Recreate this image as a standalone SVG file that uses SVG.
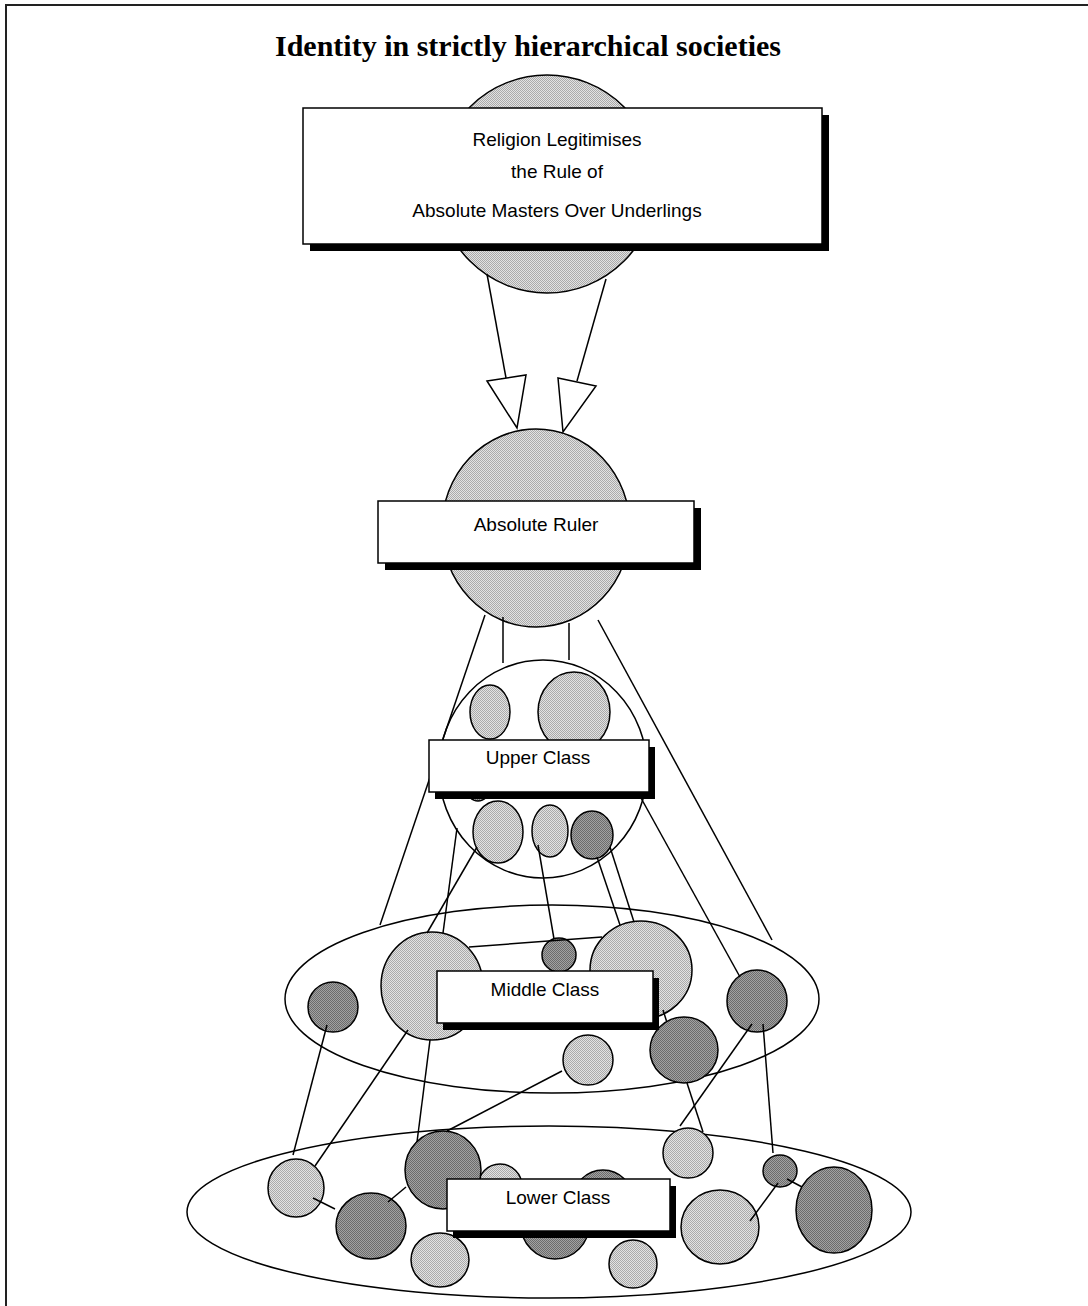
<svg xmlns="http://www.w3.org/2000/svg" width="1088" height="1306" viewBox="0 0 1088 1306">
  <defs>
    <!-- fine dithered greys -->
    <pattern id="lightDot" width="2" height="2" patternUnits="userSpaceOnUse">
      <rect width="2" height="2" fill="#e2e2e2"/>
      <rect width="1" height="1" fill="#aaaaaa"/>
      <rect x="1" y="1" width="1" height="1" fill="#aaaaaa"/>
    </pattern>
    <pattern id="darkDot" width="2" height="2" patternUnits="userSpaceOnUse">
      <rect width="2" height="2" fill="#a2a2a2"/>
      <rect width="1" height="1" fill="#6c6c6c"/>
      <rect x="1" y="1" width="1" height="1" fill="#6c6c6c"/>
    </pattern>
  </defs>
  <style>
    .frame { fill: none; stroke: #222; stroke-width: 2; }
    .title { font-family: "Liberation Serif", "Times New Roman", serif; font-weight: bold; font-size: 30px; fill: #000; }
    .group { fill: #fff; stroke: #000; stroke-width: 1.5; }
    .lt { fill: url(#lightDot); stroke: #000; stroke-width: 1.5; }
    .dk { fill: url(#darkDot); stroke: #000; stroke-width: 1.5; }
    .shadow { fill: #000; }
    .box { fill: #fff; stroke: #000; stroke-width: 1.5; }
    .label { font-family: "Liberation Sans", Arial, sans-serif; font-size: 19px; fill: #000; text-anchor: middle; }
    .conn line { stroke: #000; stroke-width: 1.5; }
    .head { fill: #fff; stroke: #000; stroke-width: 1.5; stroke-linejoin: miter; }
  </style>

  <rect width="1088" height="1306" fill="#fff"/>
  <path class="frame" d="M6,1306 V5 H1088"/>

  <text class="title" x="528" y="56" text-anchor="middle">Identity in strictly hierarchical societies</text>

  <!-- religion -->
  <g id="religion">
    <circle class="lt" cx="547" cy="184" r="109"/>
  </g>

  <!-- absolute ruler -->
  <g id="ruler">
    <ellipse class="lt" cx="536" cy="528" rx="94" ry="99"/>
  </g>

  <!-- upper class -->
  <g id="upper-class">
    <ellipse class="group" cx="543" cy="769" rx="104" ry="109"/>
    <ellipse class="lt" cx="490" cy="712" rx="20" ry="27"/>
    <ellipse class="lt" cx="574" cy="712" rx="36" ry="40"/>
    <circle class="dk" cx="478" cy="790" r="11"/>
    <ellipse class="lt" cx="498" cy="832" rx="25" ry="31"/>
    <ellipse class="lt" cx="550" cy="831" rx="18" ry="26"/>
    <ellipse class="dk" cx="592" cy="835" rx="21" ry="24"/>
  </g>

  <!-- middle class -->
  <g id="middle-class">
    <ellipse class="group" cx="552" cy="999" rx="267" ry="94"/>
    <circle class="dk" cx="333" cy="1007" r="25"/>
    <ellipse class="lt" cx="432" cy="986" rx="51" ry="54"/>
    <circle class="dk" cx="559" cy="955" r="17"/>
    <ellipse class="lt" cx="641" cy="970" rx="51" ry="49"/>
    <ellipse class="dk" cx="757" cy="1001" rx="30" ry="31"/>
    <ellipse class="dk" cx="684" cy="1050" rx="34" ry="33"/>
    <circle class="lt" cx="588" cy="1060" r="25"/>
  </g>

  <!-- lower class -->
  <g id="lower-class">
    <ellipse class="group" cx="549" cy="1212" rx="362" ry="86"/>
    <ellipse class="lt" cx="296" cy="1188" rx="28" ry="29"/>
    <ellipse class="dk" cx="371" cy="1226" rx="35" ry="33"/>
    <circle class="lt" cx="500" cy="1186" r="22"/>
    <ellipse class="dk" cx="443" cy="1170" rx="38" ry="39"/>
    <ellipse class="lt" cx="440" cy="1260" rx="29" ry="27"/>
    <circle class="dk" cx="603" cy="1200" r="30"/>
    <circle class="dk" cx="555" cy="1225" r="34"/>
    <circle class="lt" cx="633" cy="1264" r="24"/>
    <circle class="lt" cx="688" cy="1153" r="25"/>
    <ellipse class="lt" cx="720" cy="1227" rx="39" ry="37"/>
    <ellipse class="dk" cx="780" cy="1171" rx="17" ry="16"/>
    <ellipse class="dk" cx="834" cy="1210" rx="38" ry="43"/>
  </g>

  <!-- connectors -->
  <g id="connectors" class="conn">
    <!-- religion to ruler -->
    <line x1="487" y1="274" x2="506" y2="378"/>
    <polygon class="head" points="487,381 526,375 517,428"/>
    <line x1="606" y1="279" x2="577" y2="381"/>
    <polygon class="head" points="558,378 596,386 563,432"/>
    <!-- ruler down -->
    <line x1="503" y1="617" x2="503" y2="663"/>
    <line x1="569" y1="623" x2="569" y2="660"/>
    <line x1="485" y1="615" x2="380" y2="925"/>
    <line x1="598" y1="620" x2="772" y2="940"/>
    <!-- upper to middle -->
    <line x1="457" y1="828" x2="443" y2="933"/>
    <line x1="477" y1="847" x2="427" y2="933"/>
    <line x1="538" y1="845" x2="554" y2="939"/>
    <line x1="597" y1="857" x2="620" y2="925"/>
    <line x1="610" y1="847" x2="634" y2="922"/>
    <line x1="641" y1="798" x2="740" y2="977"/>
    <!-- inside middle -->
    <line x1="469" y1="947" x2="602" y2="937"/>
    <!-- middle to lower -->
    <line x1="327" y1="1025" x2="293" y2="1155"/>
    <line x1="408" y1="1030" x2="315" y2="1166"/>
    <line x1="430" y1="1040" x2="417" y2="1142"/>
    <line x1="562" y1="1071" x2="447" y2="1131"/>
    <line x1="663" y1="1010" x2="666.5" y2="1021"/>
    <line x1="687" y1="1083" x2="703" y2="1132"/>
    <line x1="752" y1="1024" x2="680" y2="1126"/>
    <line x1="763" y1="1024" x2="773" y2="1153"/>
    <!-- inside lower -->
    <line x1="313" y1="1198" x2="335" y2="1209"/>
    <line x1="388" y1="1202" x2="406" y2="1187"/>
    <line x1="750" y1="1221" x2="778" y2="1183"/>
    <line x1="787" y1="1179" x2="802" y2="1187"/>
  </g>

  <!-- label boxes -->
  <g id="religion-label">
    <rect class="shadow" x="310" y="115" width="519" height="136"/>
    <rect class="box" x="303" y="108" width="519" height="136"/>
    <text class="label" x="557" y="146">Religion Legitimises</text>
    <text class="label" x="557" y="178">the Rule of</text>
    <text class="label" x="557" y="217">Absolute Masters Over Underlings</text>
  </g>
  <g id="ruler-label">
    <rect class="shadow" x="385" y="508" width="316" height="62"/>
    <rect class="box" x="378" y="501" width="316" height="62"/>
    <text class="label" x="536" y="531">Absolute Ruler</text>
  </g>
  <g id="upper-class-label">
    <rect class="shadow" x="435" y="747" width="220" height="52"/>
    <rect class="box" x="429" y="740" width="220" height="52"/>
    <text class="label" x="538" y="764">Upper Class</text>
  </g>
  <g id="middle-class-label">
    <rect class="shadow" x="443" y="978" width="216" height="52"/>
    <rect class="box" x="437" y="971" width="216" height="52"/>
    <text class="label" x="545" y="996">Middle Class</text>
  </g>
  <g id="lower-class-label">
    <rect class="shadow" x="453" y="1186" width="223" height="52"/>
    <rect class="box" x="447" y="1179" width="223" height="52"/>
    <text class="label" x="558" y="1204">Lower Class</text>
  </g>
</svg>
